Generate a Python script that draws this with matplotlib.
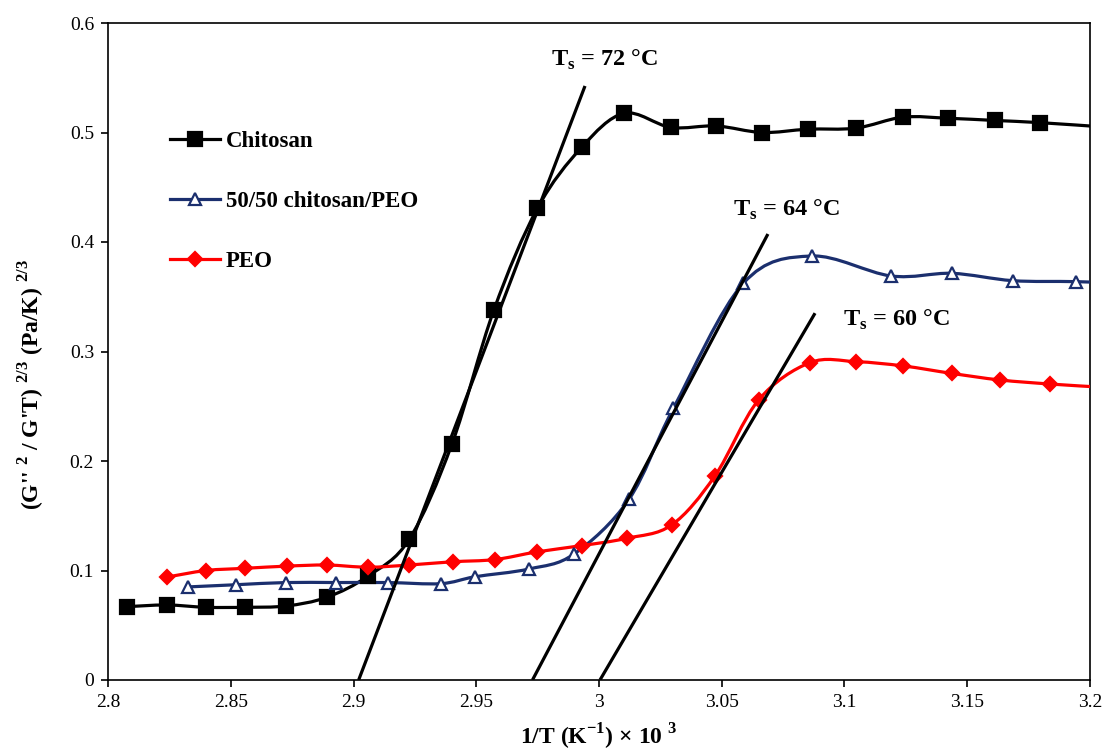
import numpy as np
import matplotlib
matplotlib.use("Agg")
import matplotlib.pyplot as plt
from matplotlib.path import Path
from matplotlib.patches import PathPatch
from matplotlib.lines import Line2D
from matplotlib.ticker import FuncFormatter

# ---------------- data ----------------
chitosan_x = [2.8079, 2.8239, 2.8400, 2.8559, 2.8725, 2.8891, 2.9060, 2.9227, 2.9401,
              2.9572, 2.9749, 2.9929, 3.0102, 3.0292, 3.0477, 3.0664, 3.0851, 3.1047,
              3.1238, 3.1422, 3.1613, 3.1796, 3.2060]
chitosan_y = [0.067, 0.0685, 0.0664, 0.0664, 0.0676, 0.0755, 0.095, 0.1285, 0.2155,
              0.338, 0.4307, 0.4864, 0.5175, 0.5047, 0.506, 0.500, 0.503, 0.504,
              0.514, 0.513, 0.511, 0.509, 0.505]

blend_x = [2.8326, 2.8521, 2.8725, 2.8929, 2.9140, 2.9356, 2.9495, 2.9715, 2.9898,
           3.0122, 3.0303, 3.0588, 3.0866, 3.1189, 3.1437, 3.1685, 3.1942, 3.2190]
blend_y = [0.085, 0.087, 0.089, 0.089, 0.089, 0.088, 0.0943, 0.1014, 0.115,
           0.165, 0.2481, 0.3623, 0.3872, 0.369, 0.3714, 0.3647, 0.3638, 0.362]

peo_x = [2.8240, 2.8400, 2.8558, 2.8729, 2.8892, 2.9059, 2.9226, 2.9405, 2.9576,
         2.9747, 2.9929, 3.0113, 3.0296, 3.0472, 3.0650, 3.0859, 3.1047, 3.1240,
         3.1437, 3.1633, 3.1837, 3.2040]
peo_y = [0.094, 0.100, 0.102, 0.104, 0.105, 0.103, 0.105, 0.108, 0.110,
         0.117, 0.1227, 0.1294, 0.1416, 0.1863, 0.2557, 0.2898, 0.2907, 0.2868,
         0.280, 0.274, 0.2703, 0.2675]

series_labels = ["Chitosan", "50/50 chitosan/PEO", "PEO"]

# tangent lines: (x at y=0, x top), (0, y top)
tangent_x = [[2.9021, 2.9943], [2.9729, 3.0688], [3.0004, 3.0880]]
tangent_y = [[0.0, 0.5425], [0.0, 0.4073], [0.0, 0.335]]

ts_labels = ["72", "64", "60"]
ts_x = [3.0024, 3.0766, 3.1214]
ts_y = [0.566, 0.429, 0.3288]

xticks = [2.8, 2.85, 2.9, 2.95, 3.0, 3.05, 3.1, 3.15, 3.2]
yticks = [0, 0.1, 0.2, 0.3, 0.4, 0.5, 0.6]

# ---------------- style ----------------
plt.rcParams['font.family'] = ['Liberation Serif', 'DejaVu Serif']
plt.rcParams['mathtext.fontset'] = 'custom'
plt.rcParams['mathtext.rm'] = 'Liberation Serif'
plt.rcParams['mathtext.bf'] = 'Liberation Serif:bold'

fig = plt.figure(figsize=(11.06, 7.55), dpi=100)
ax = fig.add_axes([108/1106, 1-680/755, (1090-108)/1106, (680-23)/755])


def smooth_path(xs, ys):
    """Excel-like smoothed curve (cubic Bezier through the points)."""
    P = np.column_stack([xs, ys]).astype(float)
    n = len(P)
    verts = [P[0]]
    codes = [Path.MOVETO]
    for i in range(n - 1):
        p0 = P[i - 1] if i > 0 else P[i]
        p1 = P[i]
        p2 = P[i + 1]
        p3 = P[i + 2] if i + 2 < n else P[i + 1]
        c1 = p1 + (p2 - p0) / 6.0
        c2 = p2 - (p3 - p1) / 6.0
        verts += [c1, c2, p2]
        codes += [Path.CURVE4] * 3
    return Path(verts, codes)


colors = ["black", "#1b2f6e", "#ff0000"]
markers = ["s", "^", "D"]
msizes = [9.5, 8.5, 7]
mfcs = ["black", "white", "#ff0000"]
data = [(chitosan_x, chitosan_y), (blend_x, blend_y), (peo_x, peo_y)]

for (xs, ys), c, m, ms, mfc in zip(data, colors, markers, msizes, mfcs):
    patch = PathPatch(smooth_path(xs, ys), facecolor='none', edgecolor=c,
                      lw=2.3, zorder=3)
    ax.add_patch(patch)
    ax.plot(xs, ys, ls='none', marker=m, ms=ms, mfc=mfc, mec=c,
            mew=1.6, zorder=4, clip_on=True)

for tx, ty in zip(tangent_x, tangent_y):
    ax.plot(tx, ty, color='black', lw=2.3, zorder=5, solid_capstyle='butt')

for lab, x, y in zip(ts_labels, ts_x, ts_y):
    ax.text(x, y, r"T$_\mathbf{s}$ = " + lab + " \u00b0C", ha='center', va='center',
            fontsize=17.5, fontweight='bold', zorder=6)

ax.set_xlim(2.8, 3.2)
ax.set_ylim(0, 0.6)
ax.set_xticks(xticks)
ax.set_yticks(yticks)
ax.xaxis.set_major_formatter(FuncFormatter(lambda v, p: f"{v:g}"))
ax.yaxis.set_major_formatter(FuncFormatter(lambda v, p: f"{v:g}"))
ax.tick_params(axis='both', direction='out', length=5, width=1.2, labelsize=14,
               colors='black', pad=5)
for s in ax.spines.values():
    s.set_linewidth(1.2)
    s.set_color('black')

ax.set_xlabel(r"1/T (K$^{\mathbf{-1}}$) $\mathbf{\times}$ 10$^{\mathbf{\ 3}}$",
              fontsize=17, fontweight='bold', labelpad=8)
ax.set_ylabel(r"(G'' $^{\mathbf{2}}$ / G'T) $^{\mathbf{2/3}}$ (Pa/K) $^{\mathbf{2/3}}$",
              fontsize=17, fontweight='bold')
ax.yaxis.set_label_coords(-0.062, 0.45)

handles = [Line2D([], [], color=c, lw=2.3, marker=m, ms=ms, mfc=mfc, mec=c, mew=1.6)
           for c, m, ms, mfc in zip(colors, markers, msizes, mfcs)]
ax.legend(handles, series_labels, frameon=False, loc='upper left',
          bbox_to_anchor=(0.063, 0.835), borderaxespad=0, borderpad=0,
          labelspacing=1.68, handlelength=2.2, handletextpad=0.25,
          prop={'family': 'Liberation Serif', 'weight': 'bold', 'size': 16.5})

fig.savefig("out.png", dpi=100)
